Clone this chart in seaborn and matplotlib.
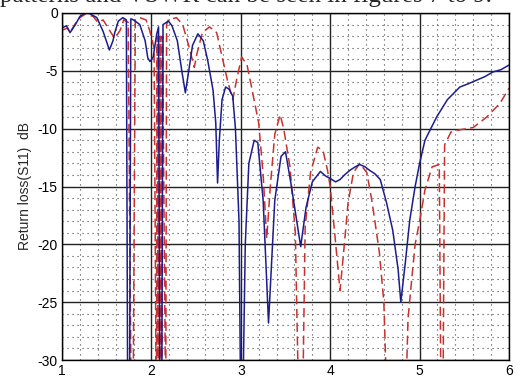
import numpy as np
import pandas as pd
import matplotlib
matplotlib.use("Agg")
import matplotlib.pyplot as plt
import seaborn as sns
from matplotlib.ticker import MultipleLocator

# Measured (blue, solid)
meas_freq = [1.00, 1.05, 1.09, 1.15, 1.20, 1.26, 1.31, 1.39, 1.46, 1.53, 1.57, 1.59,
             1.63, 1.68, 1.72, 1.735, 1.755, 1.77, 1.80, 1.87, 1.93, 1.96, 1.985,
             2.02, 2.06, 2.08, 2.095, 2.115, 2.13, 2.19, 2.23, 2.29, 2.34, 2.38,
             2.41, 2.46, 2.52, 2.58, 2.63, 2.69, 2.72, 2.74, 2.76, 2.79, 2.83,
             2.87, 2.91, 2.94, 2.98, 3.00, 3.02, 3.05, 3.09, 3.15, 3.19, 3.25,
             3.31, 3.38, 3.45, 3.50, 3.56, 3.67, 3.73, 3.80, 3.89, 3.95, 4.00,
             4.06, 4.11, 4.16, 4.22, 4.28, 4.33, 4.39, 4.44, 4.50, 4.56, 4.63,
             4.70, 4.76, 4.79, 4.84, 4.89, 4.95, 5.00, 5.06, 5.19, 5.31, 5.45,
             5.55, 5.64, 5.73, 5.82, 5.91, 6.00]
meas_s11 = [-1.3, -1.1, -1.7, -1.0, -0.3, 0.0, -0.05, -0.4, -1.6, -3.2, -2.4, -1.7,
            -0.7, -0.4, -0.6, -35, -35, -0.5, -0.6, -1.0, -2.4, -3.9, -4.2,
            -3.8, -1.8, -1.2, -35, -35, -1.0, -0.7, -1.1, -2.4, -5.0, -6.9,
            -5.4, -2.8, -1.8, -2.4, -4.1, -6.7, -9.5, -14.7, -11.0, -7.5, -6.4,
            -6.6, -7.2, -10.0, -18.0, -35, -35, -20.0, -13.0, -11.0, -11.2, -16.2,
            -26.8, -16.2, -12.4, -12.0, -14.7, -20.2, -16.8, -14.6, -13.7, -14.1, -14.3,
            -14.6, -14.4, -14.0, -13.6, -13.3, -13.1, -13.3, -13.6, -13.9, -14.4, -16.4,
            -18.8, -22.2, -25.0, -21.6, -17.9, -15.0, -13.0, -11.0, -9.0, -7.5, -6.4,
            -6.1, -5.8, -5.5, -5.1, -4.9, -4.5]

# Simulated (red, dashed)
sim_freq = [1.00, 1.06, 1.09, 1.15, 1.20, 1.26, 1.35, 1.40, 1.46, 1.54, 1.59, 1.65,
            1.69, 1.74, 1.775, 1.795, 1.82, 1.87, 1.94, 1.98, 2.03, 2.055, 2.065,
            2.075, 2.085, 2.095, 2.105, 2.115, 2.125, 2.16, 2.17, 2.19, 2.28, 2.35,
            2.42, 2.48, 2.51, 2.57, 2.65, 2.73, 2.80, 2.85, 2.91, 2.96, 3.01,
            3.07, 3.12, 3.20, 3.25, 3.29, 3.33, 3.38, 3.44, 3.48, 3.55, 3.61,
            3.65, 3.69, 3.72, 3.78, 3.86, 3.92, 3.97, 4.00, 4.05, 4.11, 4.15,
            4.20, 4.26, 4.33, 4.41, 4.47, 4.55, 4.60, 4.64, 4.84, 4.87, 4.89,
            4.95, 5.00, 5.06, 5.14, 5.22, 5.24, 5.26, 5.28, 5.35, 5.45, 5.60,
            5.75, 5.90, 6.00]
sim_s11 = [-1.5, -1.3, -1.7, -0.9, -0.4, -0.1, -0.3, -0.8, -0.6, -1.6, -2.2, -1.5,
           -0.6, -0.8, -35, -35, -0.6, -0.4, -0.6, -1.5, -3.0, -35, -2.0,
           -35, -2.0, -35, -2.0, -35, -2.0, -35, -1.0, -0.6, -0.4, -1.0,
           -2.9, -4.7, -3.5, -1.7, -1.2, -1.7, -4.1, -5.8, -7.5, -5.5, -3.8,
           -4.5, -6.4, -9.5, -14.0, -19.5, -15.0, -10.5, -8.8, -10.0, -13.3, -19.0,
           -35, -35, -18.5, -13.8, -11.6, -11.9, -13.6, -15.0, -19.0, -24.0, -20.7,
           -16.4, -13.8, -13.0, -13.8, -16.4, -20.7, -25.0, -35, -35, -26.5, -24.8,
           -20.0, -18.0, -15.3, -13.3, -13.1, -35, -35, -11.4, -10.3, -10.1, -9.9,
           -9.0, -7.8, -6.5]

xticks = [1, 2, 3, 4, 5, 6]
yticks = [0, -5, -10, -15, -20, -25, -30]

sns.set_style("white")
plt.rcParams['font.family'] = ['Liberation Sans', 'DejaVu Sans']

fig = plt.figure(figsize=(5.21, 3.85), dpi=100)
ax = fig.add_axes([62/521, 25/385, 447/521, 347/385])

meas = pd.DataFrame({"f": meas_freq, "s": meas_s11})
sim = pd.DataFrame({"f": sim_freq, "s": sim_s11})

sns.lineplot(data=sim, x="f", y="s", sort=False, estimator=None, ax=ax,
             color="#c8322e", linewidth=1.1, linestyle=(0, (6, 3)))
sns.lineplot(data=meas, x="f", y="s", sort=False, estimator=None, ax=ax,
             color="#1c1c8c", linewidth=1.1)

ax.set_xlim(1, 6)
ax.set_ylim(-30, 0)
ax.set_xticks(xticks)
ax.set_xticklabels([str(t) for t in xticks])
ax.set_yticks(yticks)
ax.set_yticklabels([str(t) for t in yticks])
ax.xaxis.set_minor_locator(MultipleLocator(0.2))
ax.yaxis.set_minor_locator(MultipleLocator(1))
ax.grid(which="major", color="#222222", linewidth=1.0, linestyle="-")
ax.grid(which="minor", color="#444444", linewidth=0.8, linestyle=(0, (1, 3.5)))
ax.set_axisbelow(True)
ax.tick_params(which="both", length=0, labelsize=10, pad=3, colors="#000000")
ax.set_xlabel("")
ax.set_ylabel("Return loss(S11)  dB", fontsize=10, labelpad=4)
for sp in ax.spines.values():
    sp.set_visible(True)
    sp.set_color("#000000")
    sp.set_linewidth(1.0)

fig.text(0.0, 1 - 2/385, "patterns and VSWR can be seen in figures 7 to 9.",
         fontsize=18, family=["Liberation Serif", "DejaVu Serif"],
         ha="left", va="baseline")

fig.savefig("out.png", dpi=100)
